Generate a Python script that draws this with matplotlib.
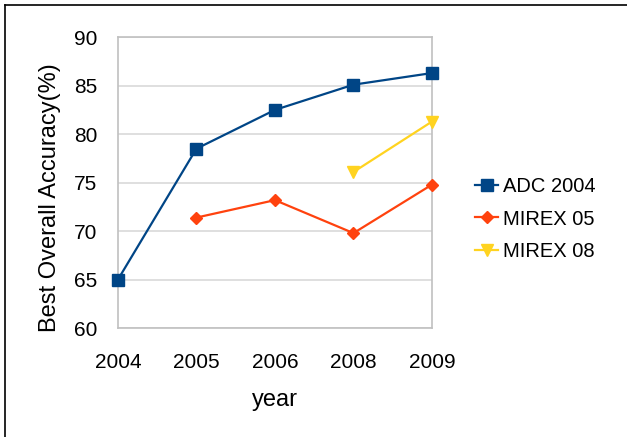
import matplotlib
matplotlib.use("Agg")
import matplotlib.pyplot as plt
from matplotlib.lines import Line2D

plt.rcParams['font.family'] = ['Liberation Sans', 'DejaVu Sans']

# data
years = ['2004', '2005', '2006', '2008', '2009']
adc2004 = [65.0, 78.5, 82.5, 85.1, 86.3]
mirex05 = [None, 71.4, 73.2, 69.8, 74.8]
mirex08 = [None, None, None, 76.1, 81.3]
y_ticks = [60, 65, 70, 75, 80, 85, 90]

series = [
    ('ADC 2004', adc2004, '#004586', 's', 9),
    ('MIREX 05', mirex05, '#ff420e', 'D', 6.5),
    ('MIREX 08', mirex08, '#ffd320', 'v', 8),
]

fig = plt.figure(figsize=(6.27, 4.37), dpi=100)
ax = fig.add_axes([0.188, 0.249, 0.501, 0.666])

for name, vals, color, marker, ms in series:
    xs = [i for i, v in enumerate(vals) if v is not None]
    ys = [v for v in vals if v is not None]
    ax.plot(xs, ys, color=color, marker=marker, markersize=ms, linewidth=1.6,
            label=name, clip_on=False, zorder=3)

ax.set_xlim(0, len(years) - 1)
ax.set_ylim(60, 90)
ax.set_xticks(range(len(years)))
ax.set_xticklabels(years)
ax.set_yticks(y_ticks)
ax.tick_params(length=0, labelsize=15, colors='black')
ax.tick_params(axis='x', pad=18)
ax.tick_params(axis='y', pad=15)
ax.grid(axis='y', color='#d9d9d9', linewidth=1.2)
ax.set_axisbelow(True)
for sp in ax.spines.values():
    sp.set_color('#c0c0c0')
    sp.set_linewidth(1.2)

ax.set_xlabel('year', fontsize=17, labelpad=12)
ax.set_ylabel('Best Overall Accuracy(%)', fontsize=17)
ax.yaxis.set_label_coords(-0.18, 0.45)

ax.legend(loc='center left', bbox_to_anchor=(1.137, 0.375), frameon=False,
          fontsize=14.5, handlelength=1.15, handletextpad=0.25, labelspacing=0.65,
          borderpad=0, borderaxespad=0)

# outer frame
fig.add_artist(Line2D([0.008, 0.008], [0, 0.988], color='black', linewidth=1.2))
fig.add_artist(Line2D([0.008, 1], [0.988, 0.988], color='black', linewidth=1.2))

fig.savefig('out.png', dpi=100)
